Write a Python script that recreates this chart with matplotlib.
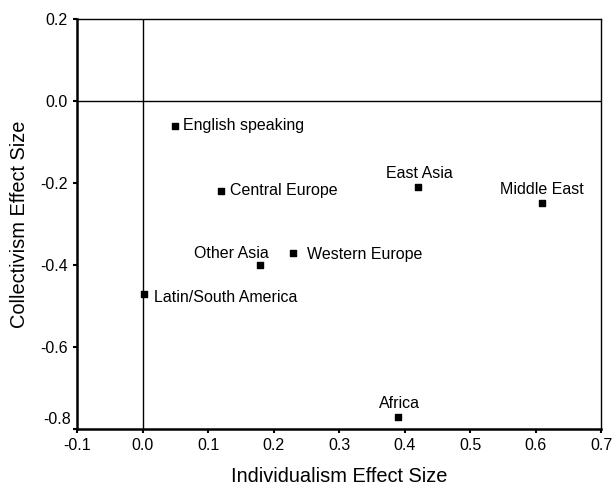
import matplotlib
matplotlib.use('Agg')
import matplotlib.pyplot as plt

plt.rcParams['font.family'] = ['Liberation Sans', 'DejaVu Sans']

# Region effect sizes
regions = ['English speaking', 'Central Europe', 'East Asia', 'Middle East',
           'Western Europe', 'Other Asia', 'Latin/South America', 'Africa']
individualism = [0.05, 0.12, 0.42, 0.61, 0.23, 0.18, 0.002, 0.39]
collectivism = [-0.06, -0.22, -0.21, -0.25, -0.37, -0.40, -0.47, -0.77]

# Label placement (offset in pixels, alignment)
label_pos = {
    'English speaking': ((8, 0), 'left', 'center'),
    'Central Europe': ((9, 1), 'left', 'center'),
    'East Asia': ((2, 14), 'center', 'center'),
    'Middle East': ((0, 14), 'center', 'center'),
    'Western Europe': ((14, -2), 'left', 'center'),
    'Other Asia': ((8, 11), 'right', 'center'),
    'Latin/South America': ((10, -4), 'left', 'center'),
    'Africa': ((1, 13), 'center', 'center'),
}

fig = plt.figure(figsize=(6.16, 4.86), dpi=100)
ax = fig.add_axes([0.125, 0.1173, 0.851, 0.8436])

ax.axhline(0, color='black', linewidth=1)
ax.axvline(0, color='black', linewidth=1)

ax.scatter(individualism, collectivism, marker='s', s=18, color='black', zorder=3)

for name, x, y in zip(regions, individualism, collectivism):
    offset, ha, va = label_pos[name]
    ax.annotate(name, (x, y), xytext=offset, textcoords='offset pixels',
                ha=ha, va=va, fontsize=11.5)

ax.set_xlim(-0.1, 0.7)
ax.set_ylim(-0.8, 0.2)
ax.set_xticks([-0.1, 0.0, 0.1, 0.2, 0.3, 0.4, 0.5, 0.6, 0.7])
ax.set_yticks([-0.8, -0.6, -0.4, -0.2, 0.0, 0.2])
ax.xaxis.set_major_formatter(matplotlib.ticker.FormatStrFormatter('%.1f'))
ax.yaxis.set_major_formatter(matplotlib.ticker.FormatStrFormatter('%.1f'))
ax.tick_params(direction='out', length=3, width=1.5, labelsize=11.5)

# the -0.8 label sits a bit above its tick in the original
ax.set_yticklabels(['', '-0.6', '-0.4', '-0.2', '0.0', '0.2'])
ax.annotate('-0.8', (-0.1, -0.8), xytext=(-6, 9), textcoords='offset pixels',
            ha='right', va='center', fontsize=11.5, annotation_clip=False)

for side in ['left', 'bottom']:
    ax.spines[side].set_linewidth(1.8)
for side in ['top', 'right']:
    ax.spines[side].set_linewidth(1.0)

ax.set_xlabel('Individualism Effect Size', fontsize=14.4, labelpad=10)
ax.set_ylabel('Collectivism Effect Size', fontsize=14.4, labelpad=8)

fig.savefig('out.png', dpi=100)
